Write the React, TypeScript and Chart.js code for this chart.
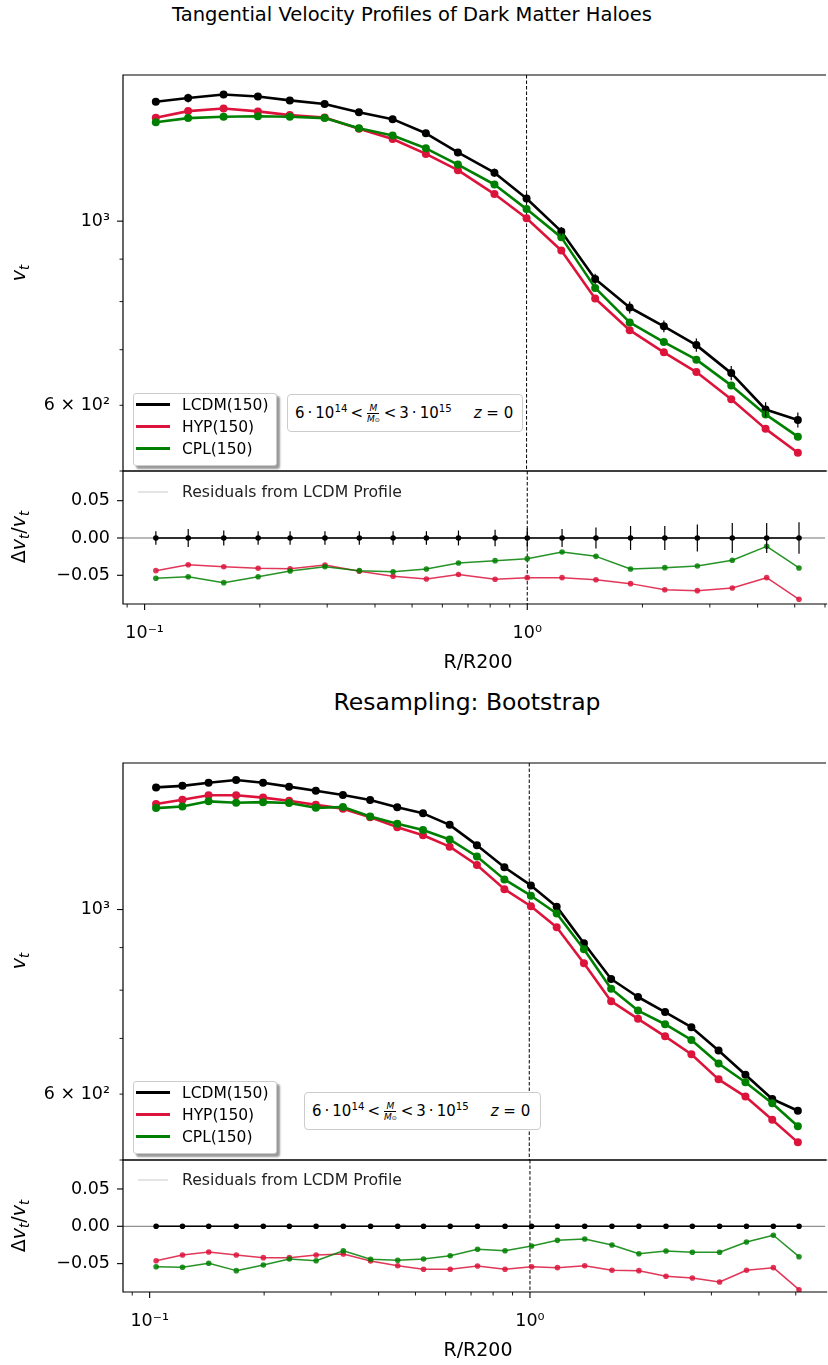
import React, { useEffect, useRef } from 'react';
import { Chart, registerables } from 'chart.js';

Chart.register(...registerables);

const FONT = "'DejaVu Sans', 'Liberation Sans', sans-serif";
const LCDM_COLOR = '#000000';
const HYP_COLOR = '#dc143c';
const CPL_COLOR = '#008000';

const seriesLabels = ['LCDM(150)', 'HYP(150)', 'CPL(150)'];
const residualLabel = 'Residuals from LCDM Profile';

// ---- upper figure: 20 radial bins ----
const radiusTop = [0.107, 0.130, 0.161, 0.198, 0.240, 0.296, 0.364, 0.446, 0.545, 0.661,
  0.824, 1.0, 1.233, 1.512, 1.862, 2.288, 2.783, 3.434, 4.224, 5.131];
const lcdmTop = [1393, 1407, 1421, 1413, 1398, 1384, 1353, 1327, 1276, 1210,
  1144, 1065, 972, 852, 787, 747, 709, 656, 593, 576];
const hypTop = [1332, 1357, 1367, 1356, 1342, 1333, 1292, 1256, 1205, 1152,
  1078, 1008, 922, 807, 739, 695, 658, 610, 562, 526];
const cplTop = [1316, 1331, 1336, 1338, 1336, 1331, 1294, 1268, 1224, 1170,
  1107, 1034, 956, 831, 755, 715, 681, 634, 585, 550];
const lcdmErrTop = [13, 17, 14, 13, 13, 12, 12, 12, 11, 12, 13, 14, 12, 12, 13, 12, 13, 13, 12, 12];
const resLcdmTop = [0, 0, 0, 0, 0, 0, 0, 0, 0, 0, 0, 0, 0, 0, 0, 0, 0, 0, 0, 0];
const resHypTop = [-0.0438, -0.0358, -0.0385, -0.0406, -0.0412, -0.0362, -0.0446, -0.0513, -0.0550, -0.0490,
  -0.0554, -0.0532, -0.0532, -0.0559, -0.0612, -0.0693, -0.0706, -0.0670, -0.0532, -0.0822];
const resCplTop = [-0.0540, -0.0519, -0.0599, -0.0519, -0.0442, -0.0385, -0.0438, -0.0452, -0.0415, -0.0335,
  -0.0304, -0.0277, -0.0188, -0.0246, -0.0415, -0.0398, -0.0375, -0.0299, -0.0112, -0.0402];
const resErrTop = [0.009, 0.012, 0.010, 0.009, 0.009, 0.009, 0.009, 0.009, 0.009, 0.010,
  0.011, 0.013, 0.012, 0.014, 0.016, 0.016, 0.018, 0.020, 0.020, 0.021];

// ---- bootstrap figure: 25 radial bins ----
const radiusBoot = [0.104, 0.122, 0.143, 0.169, 0.199, 0.233, 0.274, 0.323, 0.381, 0.449,
  0.525, 0.617, 0.728, 0.860, 1.010, 1.181, 1.393, 1.643, 1.934, 2.279, 2.673, 3.152, 3.710, 4.365, 5.099];
const lcdmBoot = [1402, 1408, 1420, 1431, 1420, 1405, 1389, 1373, 1354, 1327,
  1305, 1264, 1195, 1124, 1069, 1008, 911, 825, 785, 753, 722, 677, 633, 592, 573];
const hypBoot = [1339, 1355, 1372, 1372, 1363, 1351, 1336, 1322, 1291, 1256,
  1228, 1190, 1131, 1058, 1009, 952, 862, 776, 739, 704, 670, 625, 596, 559, 525];
const cplBoot = [1324, 1330, 1349, 1344, 1346, 1343, 1325, 1328, 1294, 1268,
  1246, 1214, 1158, 1087, 1039, 989, 896, 803, 756, 728, 697, 653, 620, 585, 549];
const resLcdmBoot = [0, 0, 0, 0, 0, 0, 0, 0, 0, 0, 0, 0, 0, 0, 0, 0, 0, 0, 0, 0, 0, 0, 0, 0, 0];
const resHypBoot = [-0.0461, -0.0384, -0.0344, -0.0384, -0.0420, -0.0420, -0.0384, -0.0371, -0.0465, -0.0528,
  -0.0576, -0.0576, -0.0532, -0.0576, -0.0541, -0.0554, -0.0528, -0.0589, -0.0594, -0.0670,
  -0.0692, -0.0746, -0.0589, -0.0554, -0.0849];
const resCplBoot = [-0.0541, -0.0549, -0.0495, -0.0594, -0.0518, -0.0438, -0.0461, -0.0327, -0.0442, -0.0455,
  -0.0438, -0.0394, -0.0308, -0.0327, -0.0264, -0.0188, -0.0170, -0.0250, -0.0367, -0.0331,
  -0.0348, -0.0348, -0.0210, -0.0120, -0.0407];

// ---- ticks ----
const vLabelValues = [600, 1000];
const vLabelText = ['6 × 10²', '10³'];
const vMajorTicks = [1000];
const vMinorTicks = [500, 600, 700, 800, 900];
const rLabelValues = [0.1, 1];
const rLabelText = ['10⁻¹', '10⁰'];
const rMajorTicks = [0.1, 1];
const rMinorTicks = [0.09, 0.2, 0.3, 0.4, 0.5, 0.6, 0.7, 0.8, 0.9, 2, 3, 4, 5, 6];
const dLabelValues = [-0.05, 0, 0.05];
const dLabelText = ['−0.05', '0.00', '0.05'];

const AXIS_LEFT = 123;
const PAGE_W = 828;

type Pt = { x: number; y: number };
const pts = (xs: number[], ys: number[]): Pt[] => xs.map((x, i) => ({ x, y: ys[i] }));

function labelAt(values: number[], labels: string[], v: number) {
  for (let i = 0; i < values.length; i++) {
    if (Math.abs(values[i] - v) < 1e-9 + Math.abs(values[i]) * 1e-6) return labels[i];
  }
  return '';
}

function series(label: string, color: string, data: Pt[], width: number, radius: number) {
  return {
    label,
    data,
    borderColor: color,
    backgroundColor: color,
    pointBackgroundColor: color,
    pointBorderColor: color,
    borderWidth: width,
    pointRadius: radius,
    pointHoverRadius: radius,
    pointBorderWidth: 0,
    tension: 0,
    fill: false,
    borderJoinStyle: 'round',
  };
}

const tickFont = { family: FONT, size: 17.5 };

function leftScale(type: string, min: number, max: number, values: number[], labels: string[]) {
  return {
    type,
    min,
    max,
    grid: { display: false, drawTicks: false },
    border: { display: false },
    ticks: {
      autoSkip: false,
      padding: 13,
      color: '#000',
      font: tickFont,
      callback: (v: number) => labelAt(values, labels, v),
    },
    afterBuildTicks: (s: any) => {
      s.ticks = values.filter((v) => v >= s.min && v <= s.max).map((v) => ({ value: v }));
    },
    afterFit: (s: any) => {
      s.width = AXIS_LEFT;
      s.paddingTop = 0;
      s.paddingBottom = 0;
    },
  };
}

function bottomScale(min: number, max: number) {
  return {
    type: 'logarithmic',
    position: 'bottom',
    min,
    max,
    grid: { display: false, drawTicks: false },
    border: { display: false },
    ticks: {
      autoSkip: false,
      maxRotation: 0,
      minRotation: 0,
      padding: 19,
      color: '#000',
      font: tickFont,
      callback: (v: number) => labelAt(rLabelValues, rLabelText, v),
    },
    afterBuildTicks: (s: any) => {
      s.ticks = rLabelValues.filter((v) => v >= s.min && v <= s.max).map((v) => ({ value: v }));
    },
    afterFit: (s: any) => {
      s.height = 60;
      s.paddingLeft = 0;
      s.paddingRight = 0;
    },
  };
}

type Decor = {
  yMajor: number[];
  yMinor: number[];
  xMajor?: number[];
  xMinor?: number[];
  zeroLine?: boolean;
  errors?: { datasetIndex: number; err: number[] };
};

// Reference lines, error bars, spines and tick marks
function decorPlugin(d: Decor) {
  return {
    id: 'decor',
    beforeDatasetsDraw(chart: any) {
      const { ctx, chartArea: a, scales } = chart;
      ctx.save();
      ctx.beginPath();
      ctx.rect(a.left, a.top, a.right - a.left, a.bottom - a.top);
      ctx.clip();
      if (d.zeroLine) {
        const y = scales.y.getPixelForValue(0);
        ctx.strokeStyle = 'rgba(0,0,0,0.55)';
        ctx.lineWidth = 1;
        ctx.beginPath();
        ctx.moveTo(a.left, y);
        ctx.lineTo(a.right, y);
        ctx.stroke();
      }
      const x = scales.x.getPixelForValue(1);
      ctx.setLineDash([3.5, 2]);
      ctx.strokeStyle = '#000';
      ctx.lineWidth = 1;
      ctx.beginPath();
      ctx.moveTo(x, a.top);
      ctx.lineTo(x, a.bottom);
      ctx.stroke();
      ctx.restore();
    },
    afterDatasetsDraw(chart: any) {
      const { ctx, chartArea: a, scales } = chart;
      ctx.save();
      if (d.errors) {
        const data = chart.data.datasets[d.errors.datasetIndex].data as Pt[];
        ctx.strokeStyle = '#000';
        ctx.lineWidth = 1.2;
        data.forEach((p, i) => {
          const e = d.errors!.err[i];
          const x = scales.x.getPixelForValue(p.x);
          ctx.beginPath();
          ctx.moveTo(x, scales.y.getPixelForValue(p.y - e));
          ctx.lineTo(x, scales.y.getPixelForValue(p.y + e));
          ctx.stroke();
        });
      }
      ctx.strokeStyle = '#000';
      ctx.lineWidth = 1.2;
      ctx.beginPath();
      ctx.moveTo(a.right + 2, a.top);
      ctx.lineTo(a.left, a.top);
      ctx.lineTo(a.left, a.bottom);
      ctx.lineTo(a.right + 2, a.bottom);
      ctx.stroke();
      const ys = scales.y;
      const yTick = (v: number, len: number) => {
        if (v < ys.min || v > ys.max) return;
        const y = ys.getPixelForValue(v);
        ctx.beginPath();
        ctx.moveTo(a.left - len, y);
        ctx.lineTo(a.left, y);
        ctx.stroke();
      };
      ctx.lineWidth = 1.1;
      d.yMajor.forEach((v) => yTick(v, 6));
      ctx.lineWidth = 0.9;
      d.yMinor.forEach((v) => yTick(v, 3.5));
      const xs = scales.x;
      const xTick = (v: number, len: number) => {
        if (v < xs.min || v > xs.max) return;
        const x = xs.getPixelForValue(v);
        ctx.beginPath();
        ctx.moveTo(x, a.bottom);
        ctx.lineTo(x, a.bottom + len);
        ctx.stroke();
      };
      ctx.lineWidth = 1.1;
      (d.xMajor || []).forEach((v) => xTick(v, 6));
      ctx.lineWidth = 0.9;
      (d.xMinor || []).forEach((v) => xTick(v, 3.5));
      ctx.restore();
    },
  };
}

const baseOptions = {
  animation: false,
  responsive: false,
  devicePixelRatio: 1,
  events: [],
  plugins: { legend: { display: false }, tooltip: { enabled: false }, title: { display: false } },
};

function profileConfig(radius: number[], lcdm: number[], hyp: number[], cpl: number[],
  xMin: number, xMax: number, lcdmErr?: number[]) {
  return {
    type: 'line',
    data: {
      datasets: [
        series(seriesLabels[2], CPL_COLOR, pts(radius, cpl), 2.6, 4),
        series(seriesLabels[1], HYP_COLOR, pts(radius, hyp), 2.6, 4),
        series(seriesLabels[0], LCDM_COLOR, pts(radius, lcdm), 2.6, 4),
      ],
    },
    options: {
      ...baseOptions,
      layout: { padding: { top: 10, bottom: 10, left: 0, right: 0 } },
      scales: {
        x: { type: 'logarithmic', min: xMin, max: xMax, display: false },
        y: leftScale('logarithmic', 500, 1500, vLabelValues, vLabelText),
      },
    },
    plugins: [decorPlugin({
      yMajor: vMajorTicks,
      yMinor: vMinorTicks,
      errors: lcdmErr ? { datasetIndex: 2, err: lcdmErr } : undefined,
    })],
  };
}

function residualConfig(radius: number[], zero: number[], hyp: number[], cpl: number[],
  xMin: number, xMax: number, yMin: number, yMax: number, err?: number[]) {
  return {
    type: 'line',
    data: {
      datasets: [
        series(seriesLabels[2], 'rgba(0,128,0,0.85)', pts(radius, cpl), 1.5, 2.8),
        series(seriesLabels[1], 'rgba(220,20,60,0.85)', pts(radius, hyp), 1.5, 2.8),
        series(seriesLabels[0], LCDM_COLOR, pts(radius, zero), 1.5, 2.8),
      ],
    },
    options: {
      ...baseOptions,
      layout: { padding: { top: 10, bottom: 0, left: 0, right: 0 } },
      scales: {
        x: bottomScale(xMin, xMax),
        y: leftScale('linear', yMin, yMax, dLabelValues, dLabelText),
      },
    },
    plugins: [decorPlugin({
      yMajor: dLabelValues,
      yMinor: [],
      xMajor: rMajorTicks,
      xMinor: rMinorTicks,
      zeroLine: true,
      errors: err ? { datasetIndex: 2, err } : undefined,
    })],
  };
}

function ChartCanvas({ top, height, build }: { top: number; height: number; build: () => any }) {
  const ref = useRef<HTMLCanvasElement>(null);
  useEffect(() => {
    const chart = new Chart(ref.current as HTMLCanvasElement, build() as any);
    return () => chart.destroy();
  }, []);
  return (
    <canvas
      ref={ref}
      width={PAGE_W}
      height={height}
      style={{ position: 'absolute', left: 0, top, width: PAGE_W, height }}
    />
  );
}

const legendColors = [LCDM_COLOR, HYP_COLOR, CPL_COLOR];

function SeriesLegend({ left, top }: { left: number; top: number }) {
  return (
    <div style={{
      position: 'absolute', left, top, width: 142, height: 71, background: '#fff',
      border: '1px solid #cccccc', borderRadius: 3, boxShadow: '3px 3px 2px rgba(0,0,0,0.4)',
    }}>
      {seriesLabels.map((label, i) => (
        <React.Fragment key={label}>
          <div style={{ position: 'absolute', left: 2, top: 8.5 + 22 * i, width: 34, height: 3, background: legendColors[i] }} />
          <div style={{ position: 'absolute', left: 48, top: 1.5 + 22 * i, fontSize: 15.5, lineHeight: '18px', whiteSpace: 'nowrap' }}>{label}</div>
        </React.Fragment>
      ))}
    </div>
  );
}

function ResidualLegend({ top }: { top: number }) {
  return (
    <>
      <div style={{ position: 'absolute', left: 138, top: top - 1.25, width: 30, height: 2.5, background: '#e4e4e4' }} />
      <div style={{ position: 'absolute', left: 182, top: top - 9.5, fontSize: 15.7, lineHeight: '18px', color: '#222', whiteSpace: 'nowrap' }}>{residualLabel}</div>
    </>
  );
}

const supStyle: React.CSSProperties = { fontSize: '0.68em', position: 'relative', top: '-0.55em', verticalAlign: 'baseline' };

function MassBox({ left, top, width }: { left: number; top: number; width: number }) {
  return (
    <div style={{
      position: 'absolute', left, top, width, height: 36, background: '#fff',
      border: '1px solid #cccccc', borderRadius: 4, display: 'flex', alignItems: 'center',
      paddingLeft: 7, boxSizing: 'content-box', fontSize: 15, whiteSpace: 'nowrap',
    }}>
      <span>6{'\u2009·\u2009'}10<span style={supStyle}>14</span></span>
      <span style={{ margin: '0 3px' }}>&lt;</span>
      <span style={{
        display: 'inline-flex', flexDirection: 'column', alignItems: 'center', fontSize: 9,
        lineHeight: '10px', margin: '0 1px', position: 'relative', top: 1,
      }}>
        <span style={{ fontStyle: 'italic', borderBottom: '1px solid #000', padding: '0 2px' }}>M</span>
        <span style={{ fontStyle: 'italic' }}>M<span style={{ fontStyle: 'normal', fontSize: 6 }}>⊙</span></span>
      </span>
      <span style={{ margin: '0 3px' }}>&lt;</span>
      <span>3{'\u2009·\u2009'}10<span style={supStyle}>15</span></span>
      <span style={{ marginLeft: 22 }}><i>z</i> = 0</span>
    </div>
  );
}

function RotatedLabel({ cx, cy, children }: { cx: number; cy: number; children: React.ReactNode }) {
  return (
    <div style={{
      position: 'absolute', left: cx, top: cy, transform: 'translate(-50%, -50%) rotate(-90deg)',
      fontSize: 19, lineHeight: '22px', whiteSpace: 'nowrap',
    }}>{children}</div>
  );
}

const subStyle: React.CSSProperties = { fontSize: '0.7em', fontStyle: 'italic', position: 'relative', top: '0.3em' };

const VLabel = () => (<span><i>v</i><span style={subStyle}>t</span></span>);
const DLabel = () => (<span>Δ<i>v</i><span style={subStyle}>t</span>/<i>v</i><span style={subStyle}>t</span></span>);

function CenteredText({ cx, top, size, children }: { cx: number; top: number; size: number; children: React.ReactNode }) {
  return (
    <div style={{ position: 'absolute', left: cx - 400, width: 800, top, textAlign: 'center', fontSize: size, lineHeight: `${Math.round(size * 1.2)}px`, whiteSpace: 'nowrap' }}>{children}</div>
  );
}

export default function App() {
  return (
    <div style={{
      position: 'absolute', left: 0, top: 0, width: PAGE_W, height: 1365, overflow: 'hidden',
      background: '#fff', fontFamily: FONT, color: '#000',
    }}>
      <CenteredText cx={412} top={3} size={19.5}>Tangential Velocity Profiles of Dark Matter Haloes</CenteredText>
      <ChartCanvas top={65} height={416} build={() => profileConfig(radiusTop, lcdmTop, hypTop, cplTop, 0.0878, 6.007, lcdmErrTop)} />
      <ChartCanvas top={461} height={203} build={() => residualConfig(radiusTop, resLcdmTop, resHypTop, resCplTop, 0.0878, 6.007, -0.0885, 0.0898, resErrTop)} />
      <SeriesLegend left={133} top={393} />
      <MassBox left={287} top={394} width={227} />
      <ResidualLegend top={492} />
      <RotatedLabel cx={19} cy={273}><VLabel /></RotatedLabel>
      <RotatedLabel cx={19} cy={537}><DLabel /></RotatedLabel>
      <CenteredText cx={478} top={650} size={19}>R/R200</CenteredText>

      <CenteredText cx={467} top={688} size={23.5}>Resampling: Bootstrap</CenteredText>
      <ChartCanvas top={753} height={417} build={() => profileConfig(radiusBoot, lcdmBoot, hypBoot, cplBoot, 0.0851, 5.975)} />
      <ChartCanvas top={1150} height={202} build={() => residualConfig(radiusBoot, resLcdmBoot, resHypBoot, resCplBoot, 0.0851, 5.975, -0.088, 0.0888)} />
      <SeriesLegend left={133} top={1081} />
      <MassBox left={304} top={1092} width={228} />
      <ResidualLegend top={1180} />
      <RotatedLabel cx={19} cy={961}><VLabel /></RotatedLabel>
      <RotatedLabel cx={19} cy={1226}><DLabel /></RotatedLabel>
      <CenteredText cx={478} top={1338} size={19}>R/R200</CenteredText>
    </div>
  );
}
